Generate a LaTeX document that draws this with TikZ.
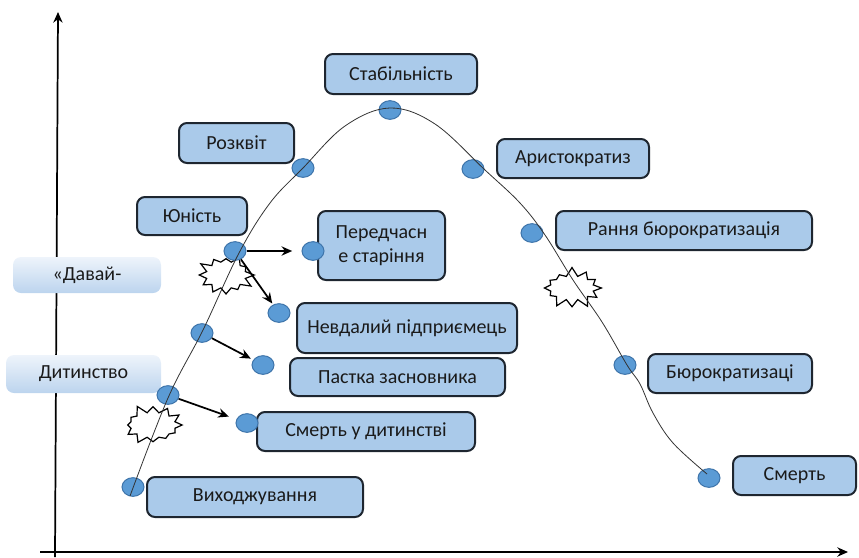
\documentclass[tikz,border=0pt]{standalone}
\usepackage{fontspec}
\setmainfont{Carlito}
\usetikzlibrary{shapes.geometric,shapes.symbols,arrows.meta}
\definecolor{boxfill}{HTML}{AACAEA}
\definecolor{boxline}{HTML}{1E2630}
\definecolor{gtop}{HTML}{EEF4FB}
\definecolor{gbot}{HTML}{BCD4EE}
\definecolor{dotfill}{HTML}{5B9BD5}
\definecolor{dotline}{HTML}{3E74AA}
\definecolor{textc}{HTML}{1A1A1A}
\begin{document}
\begin{tikzpicture}[x=0.75pt,y=-0.75pt,
  lbox/.style={draw=boxline, line width=1.5pt, fill=boxfill, rounded corners=6pt, inner sep=0pt, font=\fontsize{15}{18}\selectfont, text=textc, align=center},
  gbox/.style={rounded corners=6pt, top color=gtop, bottom color=gbot, inner sep=0pt, font=\fontsize{15}{18}\selectfont, text=textc},
  bead/.style={ellipse, draw=dotline, line width=0.75pt, fill=dotfill, minimum width=16.5pt, minimum height=14pt, inner sep=0pt},
  burst/.style={starburst, draw=black, fill=white, line width=0.9pt, inner sep=2pt, starburst points=12, starburst point height=7pt},
  arr/.style={-{Stealth[length=8pt,width=7pt]}, line width=1.3pt, black}]
\useasboundingbox (0,0) rectangle (859,557);

% axes
\coordinate (yb) at (55,557);
\coordinate (yt) at (58,12);
\coordinate (xl) at (40,552);
\coordinate (xr) at (848,552);
\draw[-{Stealth[length=8pt,width=7pt]}, line width=1.3pt] (yb) -- (yt);
\draw[-{Stealth[length=8pt,width=7pt]}, line width=1.3pt] (xl) -- (xr);

% starbursts
\node[burst, minimum width=44pt, minimum height=34pt, random starburst=3] (s1) at (226,275) {};
\node[burst, minimum width=48pt, minimum height=33pt, random starburst=5] (s2) at (153,425) {};
\node[burst, minimum width=47pt, minimum height=32pt, random starburst=7] (s3) at (572,288) {};

% boxes
\node[lbox, minimum width=114pt, minimum height=30pt] (stab) at (401,74) {Стабільність};
\node[lbox, minimum width=86.25pt, minimum height=30pt] (rozk) at (236.5,143) {Розквіт};
\node[lbox, minimum width=82.5pt, minimum height=28.5pt] (yun) at (192,216) {Юність};
\node[gbox, minimum width=111pt, minimum height=27pt] (davai) at (87,275) {«Давай-};
\node[gbox, minimum width=116.25pt, minimum height=28.5pt] (dyt) at (83.5,374) {Дитинство};
\node[lbox, minimum width=95.25pt, minimum height=51.75pt] (pered) at (381.5,245.5) {Передчасн\\е старіння};
\node[lbox, minimum width=165pt, minimum height=37.5pt] (nevd) at (407,328) {Невдалий підприємець};
\node[lbox, minimum width=161.25pt, minimum height=28.5pt] (past) at (397.5,377) {Пастка засновника};
\node[lbox, minimum width=163.5pt, minimum height=29.25pt] (smdyt) at (366,431.5) {Смерть у дитинстві};
\node[lbox, minimum width=162pt, minimum height=30pt] (vyh) at (255,497) {Виходжування};
\node[lbox, minimum width=114pt, minimum height=29.25pt] (aris) at (573,158.5) {Аристократиз};
\node[lbox, minimum width=192pt, minimum height=29.25pt] (rann) at (684,230.5) {Рання бюрократизація};
\node[lbox, minimum width=123pt, minimum height=29.25pt] (bur) at (730,373.5) {Бюрократизаці};
\node[lbox, minimum width=92.25pt, minimum height=29.25pt] (smert) at (794.5,475.5) {Смерть};

% dots
\node[bead] (dstab) at (390,110) {};
\node[bead] (drozk) at (303,168) {};
\node[bead] (daris) at (473,169) {};
\node[bead] (drann) at (532,233) {};
\node[bead] (dbur) at (625,365) {};
\node[bead] (dsmert) at (709,478) {};
\node[bead] (dyun) at (235,251) {};
\node[bead] (dpered) at (313,251) {};
\node[bead] (dnevd) at (279,313) {};
\node[bead] (dpsrc) at (202,333) {};
\node[bead] (dpast) at (263,365) {};
\node[bead] (ddyt) at (168,395) {};
\node[bead] (dsmdyt) at (247,423) {};
\node[bead] (dvyh) at (133,487) {};

% curve
\draw[line width=0.6pt, black!80] plot[smooth, tension=0.6] coordinates {
 (130,496) (168,398) (203,330) (239,253) (270,203) (303,168) (345,126) (390,108)
 (435,124) (485,170) (520,203) (545,235) (573,280) (602,322) (627,365)
 (640,384) (653,413) (673,443) (707,474)};

% arrows
\draw[arr, shorten >=7pt] (dyun) -- (dpered);
\draw[arr, shorten >=1pt] (dyun) -- (dnevd);
\draw[arr, shorten >=2pt] (dpsrc) -- (dpast);
\draw[arr, shorten >=6pt] (ddyt) -- (dsmdyt);
\end{tikzpicture}
\end{document}
